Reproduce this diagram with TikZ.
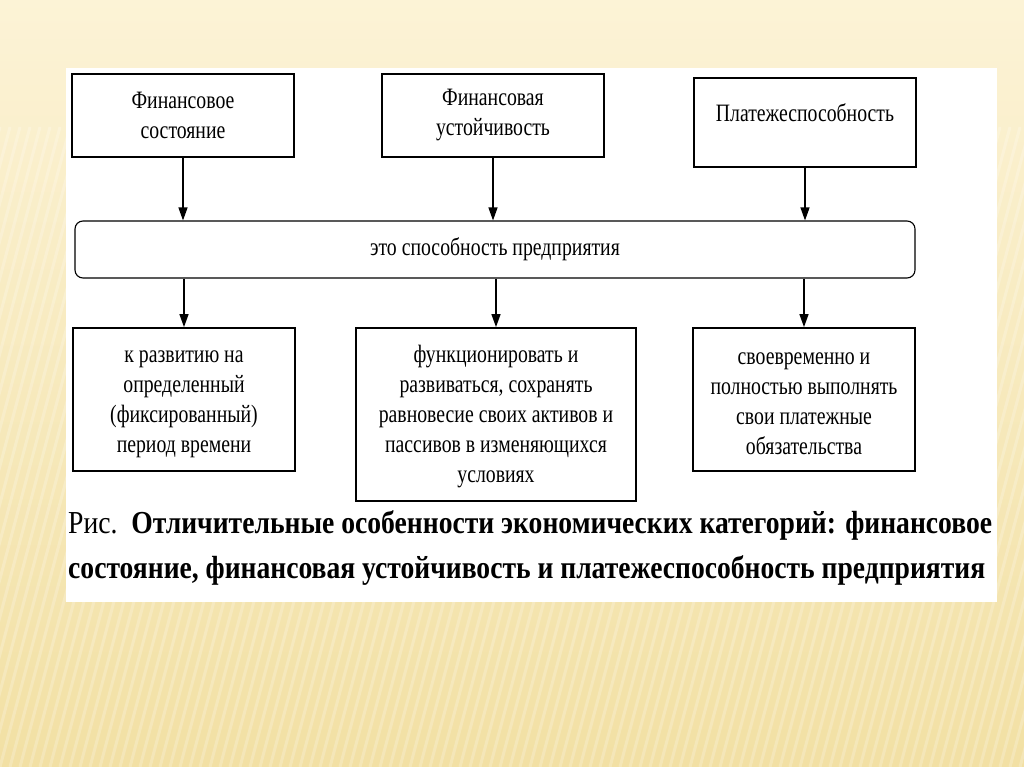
\documentclass[tikz,border=0pt]{standalone}
\usepackage{fontspec}
\setmainfont{Liberation Serif}
\newfontfamily\uzkij[FakeStretch=0.79]{Liberation Serif}
\usepackage{xcolor}
\definecolor{fonVerh}{RGB}{252,243,214}
\definecolor{fonNiz}{RGB}{242,224,164}
\usetikzlibrary{arrows.meta, positioning}

\begin{document}
\begin{tikzpicture}[x=1pt, y=-1pt,
  blok/.style={rectangle, draw=black, line width=1.8pt, align=center,
               font=\uzkij\fontsize{25}{30}\selectfont, inner sep=0pt},
  polosa/.style={rectangle, rounded corners=8pt, draw=black, line width=1.1pt,
                 fill=white, font=\uzkij\fontsize{25}{30}\selectfont,
                 minimum width=840pt, minimum height=57pt},
  strelka/.style={-{Triangle[length=13pt, width=9pt]}, line width=1.3pt},
  podpis/.style={anchor=west, inner sep=0pt}
]
\useasboundingbox (0,0) rectangle (1024,767);

% фон слайда с полосками
\fill[top color=fonVerh, bottom color=fonNiz] (0,0) rectangle (1024,767);
\begin{scope}
  \clip (0,0) rectangle (1024,767);
  \foreach \x in {-200,-190,...,1030}
    \draw[white, opacity=0.22, line width=3pt] (\x,767) -- ++(170,-640);
\end{scope}
% белое поле рисунка
\fill[white] (66,68) rectangle (997,602);

% Верхний ряд: три понятия
\node[blok, minimum width=222pt, minimum height=83pt] (fs) at (183,115.5) {Финансовое\\состояние};
\node[blok, minimum width=222pt, minimum height=83pt] (fu) at (493,115.5) {Финансовая\\устойчивость};
\node[blok, minimum width=222pt, minimum height=89pt, text depth=20pt] (pl) at (805,122.5) {Платежеспособность};

% Общая полоса
\node[polosa] (spos) at (495,249.5) {это способность предприятия};

% Нижний ряд: пояснения
\node[blok, minimum width=222pt, minimum height=143pt] (razv) at (184,399.5)
  {\strut к развитию на\\определенный\\(фиксированный)\\период времени};
\node[blok, minimum width=280pt, minimum height=173pt] (funk) at (496,414.5)
  {\strut функционировать и\\развиваться, сохранять\\равновесие своих активов и\\пассивов в изменяющихся\\условиях};
\node[blok, minimum width=222pt, minimum height=143pt] (vyp) at (804,399.5)
  {\strut своевременно и\\полностью выполнять\\свои платежные\\обязательства};

% Стрелки сверху вниз
\draw[strelka] (fs) -- (fs |- spos.north);
\draw[strelka] (fu) -- (fu |- spos.north);
\draw[strelka] (pl) -- (pl |- spos.north);
\draw[strelka] (razv |- spos.south) -- (razv);
\draw[strelka] (funk |- spos.south) -- (funk);
\draw[strelka] (vyp |- spos.south) -- (vyp);

% Подпись к рисунку
\node[podpis] (ris1) at (68,525) {\resizebox{924pt}{\height}{\fontsize{32}{32}\selectfont
  Рис.\ \ \textbf{Отличительные особенности экономических категорий: финансовое}}};
\node[podpis] (ris2) at (68,570) {\resizebox{917pt}{\height}{\fontsize{32}{32}\selectfont
  \textbf{состояние, финансовая устойчивость и платежеспособность предприятия}}};

\end{tikzpicture}
\end{document}
